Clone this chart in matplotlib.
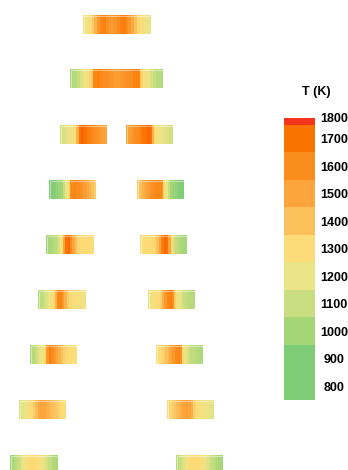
import numpy as np
import matplotlib.pyplot as plt
from matplotlib.colors import LinearSegmentedColormap, ListedColormap, BoundaryNorm, Normalize
from matplotlib.patches import Rectangle
import matplotlib.cm as cm

plt.rcParams['font.family'] = ['Liberation Sans', 'DejaVu Sans']

# Temperature scale (K) and its colours
levels = [800, 900, 1000, 1100, 1200, 1300, 1400, 1500, 1600, 1700, 1800]
level_colors = ['#7ecc76', '#7ecc76', '#a4d678', '#c8de80', '#eae487', '#fcdc78',
                '#fcc05a', '#fba53c', '#fb8c1e', '#fa7300', '#f4351c']

# Temperature profiles along each segment (left to right), K
row1 = [1200, 1250, 1300, 1350, 1450, 1550, 1620, 1640, 1580, 1550, 1540, 1560,
        1600, 1640, 1650, 1600, 1550, 1480, 1400, 1320, 1280, 1250, 1220, 1200]
row2 = [1020, 1050, 1100, 1150, 1200, 1300, 1350, 1620, 1640, 1620, 1600, 1580, 1560, 1540,
        1540, 1550, 1560, 1580, 1600, 1630, 1640, 1350, 1280, 1200, 1150, 1100, 1060, 1040]
row3_left = [1130, 1150, 1180, 1200, 1220, 1250, 1300, 1450, 1700, 1720,
             1700, 1680, 1650, 1620, 1600, 1580, 1560, 1540, 1520, 1500]
row3_right = [1500, 1520, 1550, 1580, 1600, 1620, 1650, 1680, 1700, 1720,
              1700, 1450, 1300, 1250, 1220, 1200, 1180, 1160, 1140, 1120]
row4_left = [900, 910, 920, 950, 980, 1000, 1100, 1200, 1300, 1600,
             1620, 1620, 1600, 1580, 1550, 1520, 1480, 1450, 1400, 1350]
row4_right = [1350, 1400, 1450, 1480, 1520, 1550, 1580, 1600, 1620, 1620,
              1600, 1300, 1200, 1100, 1000, 980, 950, 920, 910, 900]
row5_left = [1000, 1010, 1020, 1050, 1080, 1150, 1250, 1500, 1700, 1720,
             1600, 1500, 1400, 1320, 1300, 1300, 1300, 1300, 1290, 1280]
row5_right = [1280, 1290, 1300, 1300, 1300, 1300, 1320, 1400, 1500, 1650,
              1720, 1700, 1500, 1300, 1150, 1080, 1050, 1020, 1010, 1000]
row6_left = [1050, 1070, 1100, 1150, 1200, 1250, 1300, 1450, 1620, 1640,
             1550, 1450, 1350, 1300, 1280, 1270, 1260, 1250, 1240, 1230]
row6_right = [1220, 1240, 1260, 1280, 1300, 1350, 1450, 1550, 1620, 1640,
              1600, 1350, 1250, 1200, 1150, 1100, 1080, 1060, 1050, 1040]
row7_left = [1020, 1050, 1100, 1150, 1200, 1250, 1300, 1550, 1650, 1600,
             1550, 1500, 1450, 1400, 1350, 1320, 1300, 1300, 1290, 1280]
row7_right = [1280, 1300, 1320, 1350, 1400, 1450, 1500, 1550, 1600, 1620,
              1580, 1300, 1200, 1150, 1100, 1080, 1060, 1050, 1040, 1030]
row8_left = [1150, 1180, 1200, 1230, 1270, 1300, 1350, 1420, 1480, 1500,
             1500, 1480, 1450, 1420, 1400, 1380, 1350, 1320, 1300, 1290]
row8_right = [1300, 1320, 1350, 1380, 1420, 1450, 1480, 1500, 1520, 1500,
              1450, 1350, 1300, 1280, 1260, 1240, 1220, 1200, 1190, 1180]
row9_left = [1000, 1020, 1060, 1100, 1150, 1200, 1240, 1280, 1300, 1300,
             1300, 1290, 1260, 1220, 1180, 1140, 1100, 1060, 1030, 1010]
row9_right = [1050, 1090, 1130, 1180, 1230, 1270, 1300, 1300, 1300, 1300,
              1280, 1250, 1210, 1170, 1130, 1090, 1060, 1030, 1010, 1000]

# segment layout in pixels: (profile, left, right, top)
seg_h = 19
segments = [
    (row1, 83, 151, 15),
    (row2, 70, 163, 69),
    (row3_left, 60, 107, 125), (row3_right, 126, 173, 125),
    (row4_left, 49, 96, 180), (row4_right, 137, 184, 180),
    (row5_left, 46, 94, 235), (row5_right, 140, 187, 235),
    (row6_left, 38, 86, 290), (row6_right, 148, 195, 290),
    (row7_left, 30, 77, 345), (row7_right, 156, 203, 345),
    (row8_left, 19, 66, 400), (row8_right, 167, 214, 400),
    (row9_left, 10, 58, 455), (row9_right, 176, 223, 455),
]

W, H = 348, 470
fig = plt.figure(figsize=(W / 100, H / 100), dpi=100)
ax = fig.add_axes([0, 0, 1, 1])

smooth = LinearSegmentedColormap.from_list(
    'temp', list(zip(np.linspace(0, 1, len(levels)), level_colors)))
tnorm = Normalize(vmin=levels[0], vmax=levels[-1])

for prof, x0, x1, top in segments:
    xe = np.linspace(x0, x1, len(prof) + 1)
    ax.pcolormesh(xe, [top, top + seg_h], np.array(prof, dtype=float)[None, :],
                  cmap=smooth, norm=tnorm, shading='flat', edgecolors='none',
                  antialiased=False)
    ax.add_patch(Rectangle((x0 + 0.5, top + 0.5), x1 - x0 - 1, seg_h - 1, fill=False,
                           edgecolor='white', alpha=0.45, lw=0.75, zorder=3))

ax.set_xlim(0, W)
ax.set_ylim(H, 0)
ax.axis('off')

# discrete colour key; the top band is only a sliver
bounds = [750, 850, 950, 1050, 1150, 1250, 1350, 1450, 1550, 1650, 1750, 1775]
tick_pos = [800, 900, 1000, 1100, 1200, 1300, 1400, 1500, 1600, 1700, 1775]
cax = fig.add_axes([284 / W, 1 - 400 / H, 31 / W, 282 / H])
sm = cm.ScalarMappable(cmap=ListedColormap(level_colors), norm=BoundaryNorm(bounds, len(level_colors)))
cb = fig.colorbar(sm, cax=cax, boundaries=bounds, spacing='proportional')
cb.outline.set_visible(False)
cb.set_ticks(tick_pos)
cb.set_ticklabels([str(v) for v in levels])
cax.minorticks_off()
cax.tick_params(length=0, pad=13.7, labelsize=9)
for t in cax.get_yticklabels():
    t.set_fontweight('bold')
    t.set_horizontalalignment('center')
fig.text(316 / W, 1 - 92 / H, 'T (K)', ha='center', va='center',
         fontsize=9, fontweight='bold')

fig.savefig('out.png', dpi=100)
